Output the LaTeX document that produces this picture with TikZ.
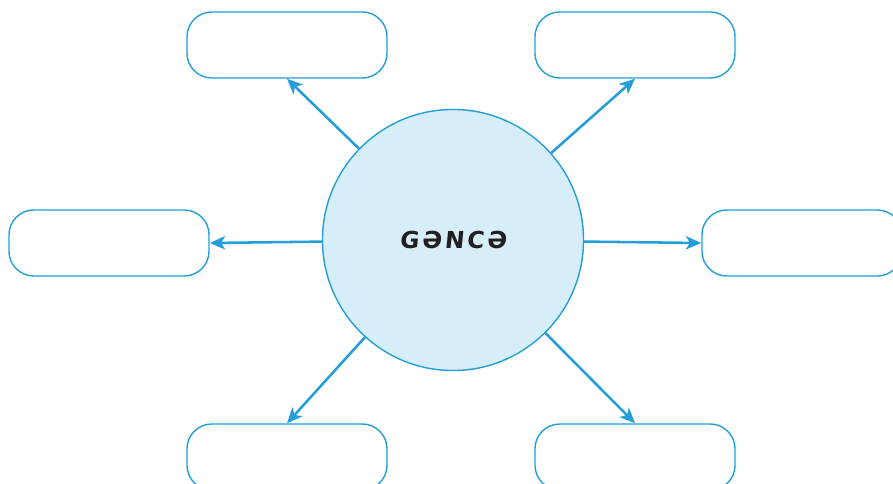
\documentclass[tikz,border=0pt]{standalone}
\usepackage{fontspec}
\newfontfamily\hubfont[LetterSpace=12,FakeSlant=0.1,BoldFont={DejaVu Sans Bold}]{DejaVu Sans}
\usepackage{xcolor}
\usetikzlibrary{arrows.meta}
\usetikzlibrary{positioning}
\definecolor{gblue}{RGB}{36,158,216}
\definecolor{gfill}{RGB}{214,238,250}
\definecolor{gtext}{RGB}{35,31,32}

\begin{document}
\begin{tikzpicture}[x=0.025cm,y=-0.025cm,->,>={Stealth[length=11pt,width=9.5pt,inset=3pt]},semithick]
  \tikzstyle{hub}=[draw=gblue, circle, fill=gfill, minimum size=6.525cm, inner sep=0pt, line width=1pt, text=gtext]
  \tikzstyle{slot}=[draw=gblue, rounded corners=0.62cm, minimum width=5cm, minimum height=1.65cm, fill=white, line width=1pt]
  \tikzstyle{link}=[color=gblue, line width=1.8pt]
  \clip (0,0) rectangle (893,484);
  \node[hub]  (G)  at (453,240) {\hubfont\fontsize{16.6}{20}\selectfont\bfseries GƏNCƏ};
  \node[slot] (TL) at (287,45)  {};
  \node[slot] (TR) at (635,45)  {};
  \node[slot] (L)  at (109,243) {};
  \node[slot] (R)  at (802,243) {};
  \node[slot] (BL) at (287,457) {};
  \node[slot] (BR) at (635,457) {};
  \path
    (G) edge [link] (TL.south)
    (G) edge [link] (TR.south)
    (G) edge [link] (L.east)
    (G) edge [link] (R.west)
    (G) edge [link] (BL.north)
    (G) edge [link] (BR.north);
\end{tikzpicture}
\end{document}
